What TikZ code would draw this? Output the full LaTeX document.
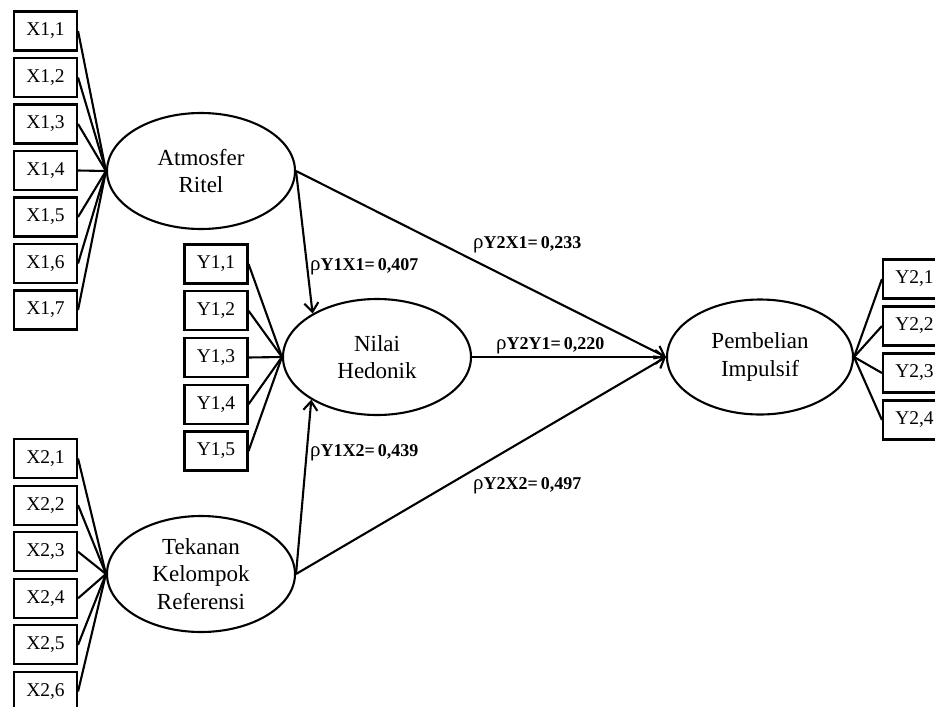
\documentclass[tikz,border=0pt]{standalone}
\usepackage{fontspec}
\setmainfont{Liberation Serif}
\usetikzlibrary{shapes.geometric,arrows.meta}
\newcommand{\myrho}{{\fontsize{21}{20}\selectfont ρ}}
\begin{document}
\begin{tikzpicture}[x=1pt,y=-1pt,
  ind/.style={draw,line width=2.1pt,rectangle,minimum width=63pt,minimum height=39pt,inner sep=0pt,font=\fontsize{19.5}{22}\selectfont},
  lat/.style={draw,line width=2.1pt,ellipse,minimum width=188pt,minimum height=116pt,inner sep=0pt,align=center,font=\fontsize{23}{27.5}\selectfont},
  ld/.style={line width=2.1pt},
  path/.style={line width=2.1pt,-{Straight Barb[length=9pt,width=14pt,line width=2.1pt]}},
  coef/.style={anchor=west,inner sep=0pt,font=\fontsize{18}{20}\selectfont}
]
\useasboundingbox (0,0) rectangle (935,707);
% latent variables
\node[lat] (atm) at (201,171) {Atmosfer\\Ritel};
\node[lat] (nil) at (377,357) {Nilai\\Hedonik};
\node[lat] (tek) at (201,574) {Tekanan\\Kelompok\\Referensi};
\node[lat,minimum width=186pt,minimum height=115pt] (pem) at (760,357) {Pembelian\\Impulsif};
% indicators X1
\foreach \i in {1,...,7} {
  \node[ind] (x1\i) at (45.5,{31+46.5*(\i-1)}) {X1,\i};
  \draw[ld] (x1\i.east) -- (atm.west);
}
% indicators Y1
\foreach \i in {1,...,5} {
  \node[ind] (y1\i) at (216,{264+46.75*(\i-1)}) {Y1,\i};
  \draw[ld] (y1\i.east) -- (nil.west);
}
% indicators X2
\foreach \i in {1,...,6} {
  \node[ind] (x2\i) at (45.5,{458.5+46.6*(\i-1)}) {X2,\i};
  \draw[ld] (x2\i.east) -- (tek.west);
}
% indicators Y2
\foreach \i in {1,...,4} {
  \node[ind] (y2\i) at (914.5,{279+47*(\i-1)}) {Y2,\i};
  \draw[ld] (pem.east) -- (y2\i.west);
}
% structural paths
\draw[path] (atm.east) -- (nil.146.7);
\draw[path] (tek.east) -- (nil.213.3);
\draw[path] (atm.east) -- (pem.west);
\draw[path] (tek.east) -- (pem.west);
\draw[path] (nil.east) -- (pem.west);
% coefficients
\node[coef] (c1) at (310,267) {\myrho\textbf{Y1X1=\,0,407}};
\node[coef] (c2) at (473,245) {\myrho\textbf{Y2X1=\,0,233}};
\node[coef] (c3) at (496,346) {\myrho\textbf{Y2Y1=\,0,220}};
\node[coef] (c4) at (310,453) {\myrho\textbf{Y1X2=\,0,439}};
\node[coef] (c5) at (473,486) {\myrho\textbf{Y2X2=\,0,497}};
\end{tikzpicture}
\end{document}
